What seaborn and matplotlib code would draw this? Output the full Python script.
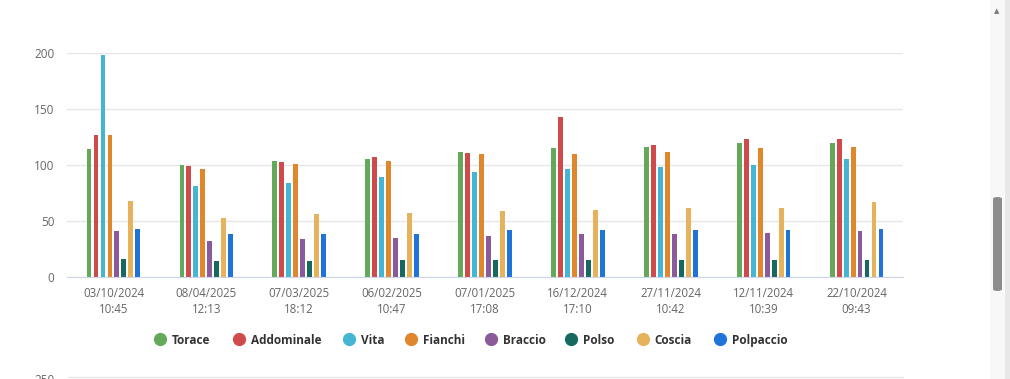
import numpy as np
import pandas as pd
import matplotlib
matplotlib.use("Agg")
import matplotlib.pyplot as plt
import seaborn as sns
from matplotlib.lines import Line2D
from matplotlib.patches import Rectangle, FancyBboxPatch

# dates of the measurements (x categories)
dates = [
    "03/10/2024\n10:45", "08/04/2025\n12:13", "07/03/2025\n18:12",
    "06/02/2025\n10:47", "07/01/2025\n17:08", "16/12/2024\n17:10",
    "27/11/2024\n10:42", "12/11/2024\n10:39", "22/10/2024\n09:43",
]
parts = ["Torace", "Addominale", "Vita", "Fianchi", "Braccio", "Polso", "Coscia", "Polpaccio"]

torace = [114, 100, 104, 105, 112, 115, 116, 120, 120]
addominale = [127, 99, 103, 107, 111, 143, 118, 123, 123]
vita = [198, 81, 84, 89, 94, 96, 98, 100, 105]
fianchi = [127, 96, 101, 104, 110, 110, 112, 115, 116]
braccio = [41, 32, 34, 35, 37, 38, 38, 39, 41]
polso = [16, 14, 14, 15, 15, 15, 15, 15, 15]
coscia = [68, 53, 56, 57, 59, 60, 62, 62, 67]
polpaccio = [43, 38, 38, 38, 42, 42, 42, 42, 43]

colors = ["#64a95a", "#cf4a4a", "#45b5d4", "#e0862c", "#8a5a9a", "#17695f", "#e6b25c", "#1f74d8"]

series = [torace, addominale, vita, fianchi, braccio, polso, coscia, polpaccio]
df = pd.DataFrame({
    "data": dates * len(parts),
    "parte": np.repeat(parts, len(dates)),
    "cm": np.concatenate(series),
})

sns.set_style("white")
plt.rcParams["font.family"] = ["Open Sans", "DejaVu Sans"]

W, H = 1010, 379
fig = plt.figure(figsize=(W / 100, H / 100), dpi=100)
ax = fig.add_axes([67 / W, 1 - 277 / H, 836 / W, 224 / H])

sns.barplot(
    data=df, x="data", y="cm", hue="parte", order=dates, hue_order=parts,
    palette=colors, width=0.6, gap=0.3, saturation=1, legend=False, ax=ax,
    linewidth=0,
)

ax.set_ylim(0, 200)
ax.set_xlim(-0.5, len(dates) - 0.5)
ax.set_yticks([0, 50, 100, 150, 200])
ax.yaxis.grid(True, color="#e6e6e6", linewidth=1)
ax.set_axisbelow(True)
for side in ["top", "right", "left"]:
    ax.spines[side].set_visible(False)
ax.spines["bottom"].set_color("#ccd6eb")
ax.tick_params(axis="both", length=0, labelcolor="#666666")
ax.tick_params(axis="y", pad=9, labelsize=8.5)
ax.tick_params(axis="x", pad=7, labelsize=8.3)
for t in ax.get_xticklabels():
    t.set_linespacing(1.35)
ax.set_xlabel("")
ax.set_ylabel("")

# legend, one row below the chart
legend_x = [159.5, 239.3, 349.4, 411.4, 490.8, 570.6, 642.6, 719.8]
ly = 1 - 339 / H
for cx, name, c in zip(legend_x, parts, colors):
    fig.add_artist(Line2D([cx / W], [ly], marker="o", markersize=8.5, linestyle="",
                          markerfacecolor=c, markeredgecolor=c))
    fig.text((cx + 12) / W, ly, name, ha="left", va="center_baseline",
             fontsize=8.5, fontweight="bold", color="#333333")

# start of the next chart below
fig.add_artist(Line2D([68 / W, 903 / W], [1 - 377 / H] * 2, color="#e6e6e6", lw=1))
fig.text(55 / W, 1 - 380 / H, "250", ha="right", va="center", fontsize=8.5, color="#666666")

# page scrollbar
fig.add_artist(Rectangle((990 / W, 0), 20 / W, 1, transform=fig.transFigure,
                         facecolor="#f8f8f8", edgecolor="none"))
fig.add_artist(Rectangle((1005 / W, 0), 5 / W, 1, transform=fig.transFigure,
                         facecolor="#e8e8e8", edgecolor="none"))
fig.add_artist(FancyBboxPatch((993 / W, 1 - 291 / H), 9 / W, 94 / H,
                              boxstyle="round,pad=0,rounding_size=0.005",
                              transform=fig.transFigure, facecolor="#8c8c8c", edgecolor="none"))
fig.text(997 / W, 1 - 11 / H, "▲", ha="center", va="center", fontsize=5,
         color="#777777", family="DejaVu Sans")

fig.savefig("out.png", dpi=100)
